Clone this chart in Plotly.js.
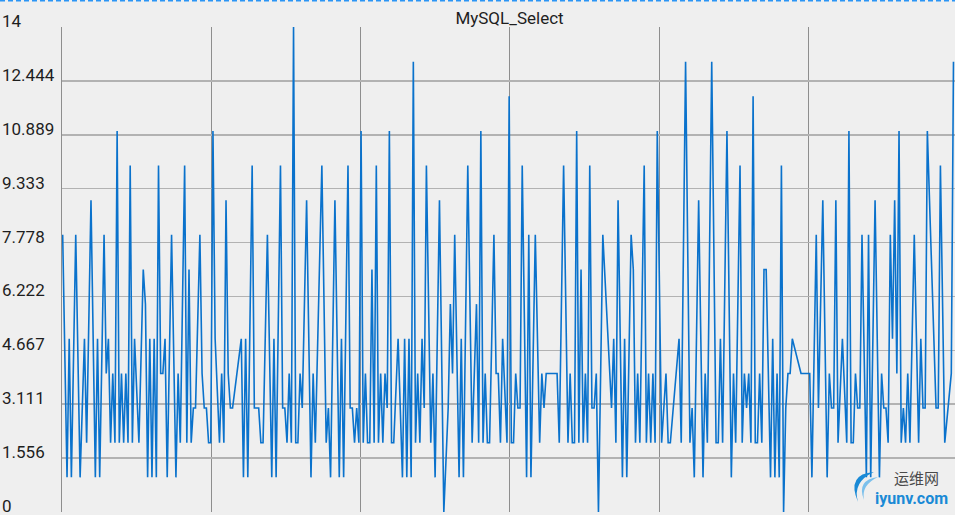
<!DOCTYPE html>
<html>
<head>
<meta charset="utf-8">
<script src="https://cdn.plot.ly/plotly-3.0.1.min.js"></script>
<style>
  html, body { margin: 0; padding: 0; background: #efefef; }
  #chart { width: 955px; height: 515px; }
</style>
</head>
<body>
<div id="chart"></div>
<script>
// sample number of each reading (some samples are missing)
var sampleIdx = [0,2,3,4,6,8,10,11,13,15,16,17,19,20,21,22,23,24,25,26,27,28,29,30,31,32,33,35,37,38,39,40,41,42,43,44,
  45,46,47,48,50,52,53,54,56,57,58,59,60,61,63,64,65,66,67,68,69,70,72,73,74,75,76,77,78,82,83,84,85,87,88,89,90,91,92,94,96,97,98,100,101,102,103,104,105,106,107,108,109,110,112,
  114,115,116,119,121,122,123,125,127,128,129,131,132,133,134,135,136,137,138,139,140,141,142,143,144,145,146,147,148,149,150,151,152,154,156,157,158,159,160,161,162,163,164,165,166,167,169,170,171,173,175,177,178,179,180,182,
  183,184,186,188,190,191,192,193,194,195,196,198,199,200,201,202,204,205,206,207,208,209,210,211,213,214,215,217,219,220,221,222,223,224,225,226,227,228,230,232,233,234,235,236,237,238,239,240,241,242,243,244,245,246,248,252,253,254,255,
  257,258,259,261,262,263,264,265,267,268,269,270,271,272,273,275,277,278,279,283,284,286,288,289,290,292,294,295,296,298,300,301,302,303,305,307,308,309,311,312,313,314,315,316,317,318,319,320,321,322,323,
  325,326,327,328,329,330,331,332,333,334,335,339,340,341,342,343,344,346,347,349,351,352,353,354,355,356,358,360,361,362,363,364,365,366,367,369,370,371,373,375,376,377,378,379,380,381,382,383,384,385,386,387,388,389,391,393,394,395,396,397,401,402,403,405,408,409];

// MySQL select count per sample
var selectCount = [8,1,5,1,8,1,5,2,9,1,5,1,8,4,5,2,4,2,11,2,4,2,4,2,10,2,5,2,7,6,1,5,1,5,1,10,
  4,4,5,1,8,1,4,2,10,2,7,2,3,3,8,4,3,3,2,2,11,5,2,4,2,9,4,3,3,5,1,5,1,10,3,3,3,2,2,8,1,5,1,10,3,3,2,4,2,14,2,2,4,3,9,
  1,4,2,10,2,3,1,9,1,5,1,10,3,3,2,3,2,11,2,4,2,2,7,2,10,2,4,2,4,3,11,2,2,5,1,5,1,5,1,13,2,4,2,5,3,10,2,4,1,9,0,3,6,4,8,1,
  5,1,10,2,6,2,11,2,4,2,2,8,4,4,2,5,2,12,2,2,4,3,3,10,1,8,1,8,2,4,3,4,4,4,4,4,4,2,10,2,4,2,2,11,2,7,2,4,2,10,3,3,4,0,8,3,5,2,9,
  1,5,1,8,7,2,4,2,10,2,4,2,4,2,11,2,4,2,2,5,2,13,2,3,1,9,1,4,2,13,2,2,5,2,11,1,4,2,10,2,4,3,4,2,12,2,2,4,2,7,7,
  1,5,1,4,1,10,0,3,4,4,5,4,4,4,4,4,1,8,3,9,1,4,3,3,9,2,5,2,11,2,2,4,3,3,8,1,8,1,9,1,4,3,3,2,8,5,9,4,11,2,3,2,4,2,8,2,5,3,3,11,3,3,10,2,4,13];

var yTickVals = [0, 1.556, 3.111, 4.667, 6.222, 7.778, 9.333, 10.889, 12.444, 14];
var yTickText = ['0', '1.556', '3.111', '4.667', '6.222', '7.778', '9.333', '10.889', '12.444', '14'];

var chartTitle = 'MySQL_Select';
var watermarkCn = '运维网';
var watermarkEn = 'iyunv.com';

var W = 955, H = 515;
var mL = 62, mR = 0, mT = 27, mB = 3;
var plotW = W - mL - mR, plotH = H - mT - mB;
var xMin = -0.31, xMax = 409.7;
var xGridStep = 68.53;

// helpers converting page pixels to paper fractions (for decorations only)
function px(v) { return (v - mL) / plotW; }
function py(v) { return (H - mB - v) / plotH; }

var annotations = yTickVals.map(function (v, i) {
  return {
    x: px(0), xref: 'paper', xanchor: 'left',
    y: v, yref: 'y', yanchor: 'middle', yshift: 6,
    text: yTickText[i], showarrow: false,
    font: {family: 'Roboto, sans-serif', size: 17, color: '#1e1e1e'}
  };
});
annotations.push({
  x: px(916), xref: 'paper', xanchor: 'center',
  y: py(477), yref: 'paper', yanchor: 'middle', borderpad: 0,
  text: watermarkCn, showarrow: false,
  font: {family: 'Noto Sans CJK SC, sans-serif', size: 15, color: '#4a4a4a'}
});
annotations.push({
  x: px(911), xref: 'paper', xanchor: 'center',
  y: py(498), yref: 'paper', yanchor: 'middle', borderpad: 0,
  text: '<b>' + watermarkEn + '</b>', showarrow: false,
  font: {family: 'Roboto, sans-serif', size: 16, color: '#1a8ad6'}
});

function P(x, y) { return px(x).toFixed(5) + ',' + py(y).toFixed(5); }
var swoosh1 = 'M' + P(874, 472) + ' Q' + P(846, 474) + ' ' + P(858, 502) +
  ' Q' + P(852, 482) + ' ' + P(874, 472) + ' Z';
var swoosh2 = 'M' + P(878, 477) + ' Q' + P(856, 480) + ' ' + P(864, 500) +
  ' Q' + P(861, 485) + ' ' + P(878, 477) + ' Z';

var trace = {
  x: sampleIdx,
  y: selectCount,
  type: 'scatter',
  mode: 'lines',
  line: {color: '#0a72cc', width: 1.6},
  hoverinfo: 'y'
};

var layout = {
  width: W, height: H,
  margin: {l: mL, r: mR, t: mT, b: mB, pad: 0},
  paper_bgcolor: '#efefef',
  plot_bgcolor: '#efefef',
  showlegend: false,
  title: {
    text: chartTitle,
    x: (mL + plotW / 2 + 1) / W, xanchor: 'center',
    y: 1 - 18 / H, yanchor: 'middle', yref: 'container',
    font: {family: 'Roboto, sans-serif', size: 17, color: '#1e1e1e'}
  },
  xaxis: {
    range: [xMin, xMax],
    tick0: xMin, dtick: xGridStep, tickmode: 'linear',
    showticklabels: false, ticks: '',
    showgrid: true, gridcolor: '#8e8e8e', gridwidth: 1,
    zeroline: false, showline: false, fixedrange: true
  },
  yaxis: {
    range: [0, 14],
    tickmode: 'array', tickvals: yTickVals,
    showticklabels: false, ticks: '',
    showgrid: true, gridcolor: '#b2b2b2', gridwidth: 1.5,
    zeroline: false, showline: true, linecolor: '#8e8e8e', linewidth: 1,
    fixedrange: true
  },
  shapes: [{
    type: 'line', xref: 'paper', yref: 'paper',
    x0: px(0), x1: 1, y0: py(0.8), y1: py(0.8),
    line: {color: '#2b95f5', width: 1.5, dash: '5px,3px'}
  }, {
    type: 'path', xref: 'paper', yref: 'paper', path: swoosh1,
    fillcolor: '#1a8ad6', line: {width: 0}
  }, {
    type: 'path', xref: 'paper', yref: 'paper', path: swoosh2,
    fillcolor: '#7cc0ec', line: {width: 0}
  }],
  annotations: annotations
};

Plotly.newPlot('chart', [trace], layout, {displayModeBar: false, staticPlot: true});
</script>
</body>
</html>
